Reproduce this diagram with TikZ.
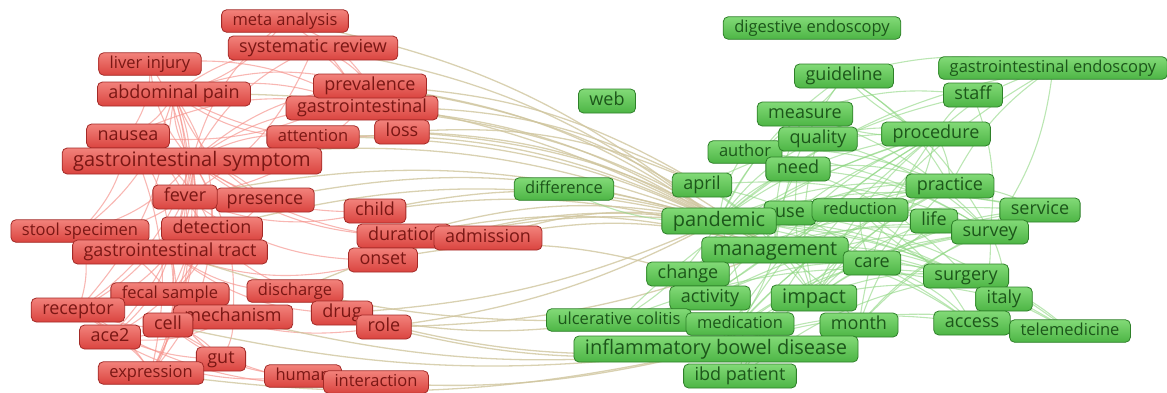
\documentclass[tikz,border=0pt]{standalone}
\usepackage{fontspec}
\setmainfont{Open Sans}
\usepackage{xcolor}
\usetikzlibrary{backgrounds}

\definecolor{redtop}{HTML}{F2827B}
\definecolor{redbot}{HTML}{DA443F}
\definecolor{redline}{HTML}{A32A27}
\definecolor{redtext}{HTML}{7A1714}
\definecolor{greentop}{HTML}{82DA77}
\definecolor{greenbot}{HTML}{4DB545}
\definecolor{greenline}{HTML}{2E8029}
\definecolor{greentext}{HTML}{1C561A}
\definecolor{redlink}{HTML}{F5918A}
\definecolor{greenlink}{HTML}{8ED681}
\definecolor{mixlink}{HTML}{CFC59E}

\tikzset{
  term/.style={rectangle, rounded corners=5pt, line width=0.8pt, inner xsep=11pt,
               inner ysep=3.5pt, text height=13pt, text depth=4pt,
               font=\fontsize{18}{18}\selectfont},
  redterm/.style={term, draw=redline, top color=redtop, bottom color=redbot, text=redtext},
  greenterm/.style={term, draw=greenline, top color=greentop, bottom color=greenbot, text=greentext},
  small/.style={font=\fontsize{16.5}{16.5}\selectfont, text height=12pt, text depth=3.5pt},
  large/.style={font=\fontsize{20}{20}\selectfont, text height=14.5pt, text depth=4.5pt},
  rededge/.style={draw=redlink, line width=1.1pt, opacity=0.65},
  greenedge/.style={draw=greenlink, line width=1.1pt, opacity=0.6},
  mixedge/.style={draw=mixlink, line width=1.3pt, opacity=0.8}
}

\begin{document}
\begin{tikzpicture}[x=1pt, y=-1pt]
  \useasboundingbox (0,0) rectangle (1167,392);

  % red cluster
  \node[redterm, small] (meta)      at (285,21)  {meta analysis};
  \node[redterm]        (sysrev)    at (313,48)  {systematic review};
  \node[redterm, small] (liver)     at (150,64)  {liver injury};
  \node[redterm]        (abdpain)   at (174,94)  {abdominal pain};
  \node[redterm]        (gi)        at (362,108) {gastrointestinal};
  \node[redterm]        (prev)      at (370,86)  {prevalence};
  \node[redterm]        (loss)      at (402,132) {loss};
  \node[redterm]        (nausea)    at (128,136) {nausea};
  \node[redterm, small] (attn)      at (313,137) {attention};
  \node[redterm, large] (gisym)     at (192,161) {gastrointestinal symptom};
  \node[redterm]        (presence)  at (265,200) {presence};
  \node[redterm]        (fever)     at (185,197) {fever};
  \node[redterm]        (child)     at (375,211) {child};
  \node[redterm, small] (stool)     at (80,231)  {stool specimen};
  \node[redterm]        (detect)    at (212,229) {detection};
  \node[redterm]        (duration)  at (404,236) {duration};
  \node[redterm]        (admission) at (488,238) {admission};
  \node[redterm]        (gitract)   at (170,252) {gastrointestinal tract};
  \node[redterm]        (onset)     at (383,260) {onset};
  \node[redterm, small] (fecal)     at (170,294) {fecal sample};
  \node[redterm, small] (discharge) at (295,291) {discharge};
  \node[redterm]        (receptor)  at (78,310)  {receptor};
  \node[redterm]        (mech)      at (233,317) {mechanism};
  \node[redterm]        (drug)      at (342,313) {drug};
  \node[redterm]        (ace)       at (110,337) {ace2};
  \node[redterm]        (cell)      at (168,325) {cell};
  \node[redterm]        (role)      at (384,327) {role};
  \node[redterm]        (gut)       at (221,359) {gut};
  \node[redterm, small] (expr)      at (151,373) {expression};
  \node[redterm, small] (human)     at (303,376) {human};
  \node[redterm, small] (interact)  at (376,382) {interaction};

  % green cluster
  \node[greenterm, small] (digendo)  at (812,28)   {digestive endoscopy};
  \node[greenterm]        (web)      at (607,101)  {web};
  \node[greenterm]        (guide)    at (844,76)   {guideline};
  \node[greenterm, small] (giendo)   at (1053,68)  {gastrointestinal endoscopy};
  \node[greenterm]        (staff)    at (973,95)   {staff};
  \node[greenterm]        (measure)  at (805,114)  {measure};
  \node[greenterm, small] (author)   at (745,152)  {author};
  \node[greenterm]        (quality)  at (818,139)  {quality};
  \node[greenterm]        (proc)     at (936,134)  {procedure};
  \node[greenterm]        (need)     at (798,169)  {need};
  \node[greenterm, small] (diff)     at (564,189)  {difference};
  \node[greenterm]        (april)    at (702,185)  {april};
  \node[greenterm]        (practice) at (950,186)  {practice};
  \node[greenterm]        (use)      at (790,213)  {use};
  \node[greenterm, small] (reduct)   at (860,210)  {reduction};
  \node[greenterm, large] (pandemic) at (719,221)  {pandemic};
  \node[greenterm]        (life)     at (934,221)  {life};
  \node[greenterm]        (service)  at (1040,210) {service};
  \node[greenterm]        (survey)   at (990,232)  {survey};
  \node[greenterm, large] (mgmt)     at (775,250)  {management};
  \node[greenterm]        (care)     at (872,263)  {care};
  \node[greenterm]        (change)   at (688,274)  {change};
  \node[greenterm]        (surgery)  at (966,276)  {surgery};
  \node[greenterm]        (activity) at (710,298)  {activity};
  \node[greenterm, large] (impact)   at (814,298)  {impact};
  \node[greenterm]        (italy)    at (1004,299) {italy};
  \node[greenterm, small] (uc)       at (619,320)  {ulcerative colitis};
  \node[greenterm, small] (medic)    at (740,324)  {medication};
  \node[greenterm]        (month)    at (859,325)  {month};
  \node[greenterm]        (access)   at (972,323)  {access};
  \node[greenterm, small] (tele)     at (1070,331) {telemedicine};
  \node[greenterm, large] (ibd)      at (716,349)  {inflammatory bowel disease};
  \node[greenterm]        (ibdpat)   at (740,376)  {ibd patient};

  \begin{scope}[on background layer]
    % links inside the red cluster
    \foreach \a/\b in {gisym/abdpain, gisym/nausea, gisym/fever, gisym/liver, gisym/sysrev,
        gisym/meta, gisym/prev, gisym/gi, gisym/attn, gisym/presence, gisym/detect,
        gisym/gitract, gisym/stool, gisym/fecal, gisym/cell, gisym/ace, gisym/receptor,
        gisym/expr, gisym/mech, abdpain/nausea, abdpain/fever, abdpain/sysrev, abdpain/prev,
        abdpain/gi, abdpain/detect, nausea/fever, nausea/gi, nausea/gitract, fever/presence,
        fever/gitract, detect/gitract, detect/stool, detect/fecal, gitract/receptor,
        gitract/ace, gitract/cell, gitract/expr, gitract/fecal, receptor/ace, receptor/expr,
        ace/expr, cell/expr, cell/gut, mech/receptor, mech/ace, gut/expr, human/ace,
        human/cell, interact/receptor, meta/prev, sysrev/prev, sysrev/gi, meta/gi,
        liver/gi, gi/loss, attn/abdpain, child/gisym, duration/gisym, onset/fever,
        discharge/gitract, drug/gitract, role/fecal, admission/gisym, presence/abdpain,
        abdpain/gitract, abdpain/stool, abdpain/cell, abdpain/receptor, nausea/detect,
        nausea/stool, nausea/expr, liver/fever, liver/nausea, sysrev/fever, meta/abdpain,
        fever/stool, fever/receptor, fever/expr, detect/expr, detect/ace, stool/fecal,
        stool/receptor, gut/receptor, gut/fecal, mech/cell, mech/gut, cell/ace,
        presence/gitract, gi/fever, prev/nausea, loss/abdpain, child/fever, onset/gitract,
        discharge/fever, interact/cell}
      \draw[rededge] (\a.center) to[bend left=18] (\b.center);

    % links between the two clusters
    \foreach \a/\b in {prev/pandemic, gi/pandemic, loss/pandemic, attn/pandemic,
        sysrev/pandemic, meta/pandemic, gisym/pandemic, presence/pandemic, child/pandemic,
        duration/pandemic, onset/pandemic, admission/pandemic, admission/mgmt,
        discharge/pandemic, onset/change, gi/april, prev/april, loss/april,
        abdpain/pandemic, child/mgmt, prev/mgmt, detect/pandemic, gi/mgmt,
        attn/mgmt, loss/mgmt, duration/mgmt, fever/pandemic}
      \draw[mixedge] (\a.center) to[bend left=14] (\b.center);
    \foreach \a/\b in {role/ibd, cell/ibd, mech/ibd, drug/ibd, drug/uc, gitract/uc,
        expr/ibd, role/pandemic, human/ibd, role/mgmt, drug/pandemic}
      \draw[mixedge] (\a.center) to[bend right=10] (\b.center);

    % links inside the green cluster
    \foreach \a/\b in {pandemic/guide, pandemic/measure, pandemic/quality, pandemic/proc,
        pandemic/author, pandemic/need, pandemic/practice, pandemic/use, pandemic/reduct,
        pandemic/life, pandemic/service, pandemic/survey, pandemic/care, pandemic/surgery,
        pandemic/impact, pandemic/italy, pandemic/access, pandemic/tele, pandemic/month,
        pandemic/giendo, pandemic/staff, pandemic/diff, pandemic/uc, pandemic/ibdpat,
        mgmt/guide, mgmt/proc, mgmt/practice, mgmt/survey, mgmt/surgery, mgmt/tele,
        mgmt/access, mgmt/italy, mgmt/need, mgmt/measure, mgmt/ibd, mgmt/uc,
        impact/proc, impact/practice, impact/service, impact/survey, impact/life,
        impact/quality, impact/need, impact/giendo, impact/italy, impact/surgery,
        proc/giendo, proc/staff, proc/guide, proc/measure, proc/care, proc/practice,
        practice/service, practice/giendo, survey/life, survey/access, survey/italy,
        surgery/reduct, surgery/care, surgery/tele, care/service, care/reduct,
        guide/measure, guide/giendo, measure/staff, quality/proc, change/proc,
        activity/proc, activity/practice, medic/survey, month/survey, month/proc,
        ibd/survey, ibd/access, ibd/proc, ibdpat/surgery, ibdpat/practice, april/proc,
        april/survey, change/survey, use/tele, reduct/access, author/survey, need/surgery,
        april/mgmt, april/impact, april/care, change/practice, change/service,
        activity/survey, activity/care, uc/proc, uc/surgery, medic/practice, medic/proc,
        month/practice, month/service, ibd/practice, ibd/care, ibd/tele, ibdpat/proc,
        need/practice, need/survey, quality/survey, measure/survey, author/practice,
        use/practice, use/survey, reduct/service, life/care, care/access, care/italy,
        staff/survey, giendo/survey, guide/survey, guide/practice}
      \draw[greenedge] (\a.center) to[bend left=14] (\b.center);
  \end{scope}
\end{tikzpicture}
\end{document}
